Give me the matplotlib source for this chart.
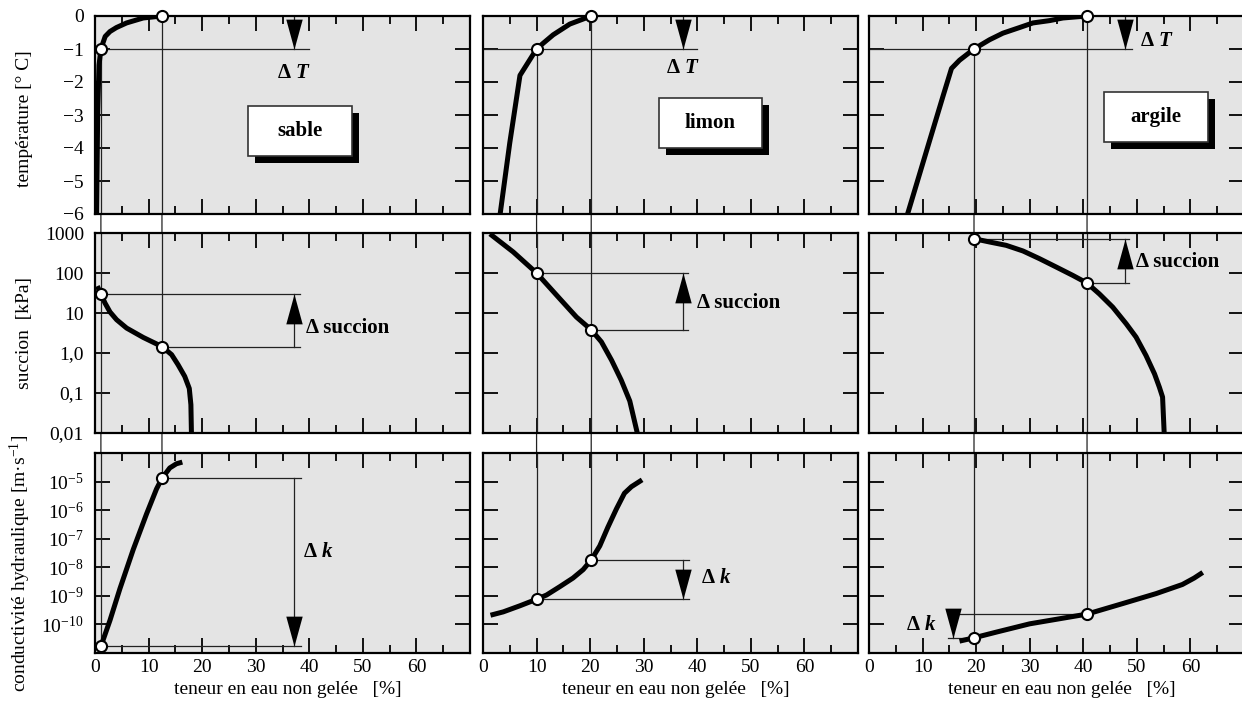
import matplotlib
matplotlib.use('Agg')
import matplotlib.pyplot as plt
from matplotlib.patches import Rectangle, ConnectionPatch
from matplotlib.ticker import NullLocator
import matplotlib.patheffects as pe

plt.rcParams['font.family'] = ['Liberation Serif', 'DejaVu Serif']
plt.rcParams['mathtext.fontset'] = 'custom'
plt.rcParams['mathtext.rm'] = 'Liberation Serif'
plt.rcParams['mathtext.it'] = 'Liberation Serif:italic:bold'
plt.rcParams['mathtext.bf'] = 'Liberation Serif:bold'

soils = ['sable', 'limon', 'argile']

# température [°C] en fonction de la teneur en eau non gelée [%]
temp_w = [[0.3, 0.5, 0.75, 1.1, 1.9, 2.8, 4.0, 5.9, 9.0, 12.5],
          [3.2, 5.0, 6.9, 8.1, 10.0, 11.2, 13.1, 16.2, 20.2],
          [7.2, 11.4, 13.85, 15.4, 16.9, 19.6, 22.5, 25.0, 28.1, 30.6, 33.7, 36.2, 40.7]]
temp_t = [[-6.0, -2.92, -1.49, -1.0, -0.62, -0.47, -0.35, -0.21, -0.06, 0.0],
          [-6.0, -3.84, -1.8, -1.49, -1.0, -0.83, -0.57, -0.245, 0.0],
          [-6.0, -3.73, -2.41, -1.59, -1.34, -1.0, -0.72, -0.52, -0.35, -0.21, -0.14, -0.06, 0.0]]

# succion [kPa]
suc_w = [[0.43, 1.1, 1.86, 2.8, 4.03, 5.9, 9.0, 12.5, 14.3, 15.5, 16.75, 17.6, 17.9, 18.0],
         [1.3, 5.65, 10.0, 14.3, 17.45, 20.2, 22.1, 24.0, 25.8, 27.4, 28.8],
         [19.6, 22.5, 25.6, 28.75, 31.8, 34.95, 38.05, 40.7, 43.0, 45.5, 48.0, 49.85,
          51.7, 53.3, 54.2, 54.8, 55.1]]
suc_s = [[47, 30, 17.8, 10.6, 6.8, 4.2, 2.45, 1.45, 0.91, 0.51, 0.26, 0.13, 0.051, 0.01],
         [950, 335, 100, 23, 7.9, 3.8, 1.9, 0.66, 0.21, 0.063, 0.01],
         [720, 596, 492, 355, 229, 141, 87, 56, 30, 14, 5.4, 2.5,
          0.87, 0.30, 0.14, 0.079, 0.01]]

# conductivité hydraulique [m/s]
k_w = [[1.1, 1.68, 2.8, 4.66, 7.14, 9.6, 11.48, 12.5, 13.96, 15.2, 16.3],
       [1.4, 3.78, 6.9, 10.0, 11.86, 14.34, 16.8, 18.7, 20.2, 21.8, 23.3, 24.9, 26.4, 27.7, 29.7],
       [16.9, 19.6, 23.8, 30.0, 40.7, 47.4, 53.6, 58.5, 60.7, 62.3]]
k_k = [[1.7e-11, 3.5e-11, 1.4e-10, 1.8e-9, 4.2e-8, 7.2e-7, 5.5e-6, 1.3e-5, 3.0e-5, 4.2e-5, 4.8e-5],
       [2.1e-10, 2.75e-10, 4.5e-10, 7.6e-10, 1.07e-9, 2.1e-9, 4.2e-9, 8.3e-9, 1.8e-8, 5.6e-8,
        2.5e-7, 1.1e-6, 3.9e-6, 6.6e-6, 1.15e-5],
       [2.6e-11, 3.4e-11, 5.4e-11, 1.05e-10, 2.3e-10, 5.4e-10, 1.2e-9, 2.5e-9, 4.2e-9, 6.6e-9]]

# points repères : -1 °C (w_lo) et 0 °C (w_hi)
w_lo = [1.1, 10.0, 19.6]
w_hi = [12.5, 20.2, 40.7]
s_lo = [30, 100, 720]
s_hi = [1.45, 3.8, 56]
k_lo = [1.7e-11, 7.6e-10, 3.4e-11]
k_hi = [1.3e-5, 1.8e-8, 2.3e-10]

W, H = 1242, 704
fig = plt.figure(figsize=(W / 100, H / 100), dpi=100)
col_x = [95, 483, 869]
row_y = [(16, 214), (233, 433), (453, 653)]
axes = [[fig.add_axes([x / W, 1 - yb / H, 375 / W, (yb - yt) / H]) for x in col_x]
        for (yt, yb) in row_y]

FS = 14
for r in range(3):
    for c in range(3):
        ax = axes[r][c]
        ax.set_facecolor('#e4e4e4')
        for s in ax.spines.values():
            s.set_linewidth(1.6)
        ax.set_xlim(0, 70)
        ax.set_xticks(range(0, 70, 10))
        ax.set_xticks(range(5, 70, 10), minor=True)
        ax.tick_params(axis='x', which='major', direction='in', top=True, bottom=True,
                       length=11, width=1.3, labelsize=FS, pad=4, labelbottom=(r == 2))
        ax.tick_params(axis='x', which='minor', direction='in', top=True, bottom=True,
                       length=6, width=1.3)
        ax.tick_params(axis='y', which='major', direction='in', left=True, right=True,
                       length=11, width=1.3, labelsize=FS, pad=8, labelleft=(c == 0))
        if r == 0:
            ax.set_ylim(-6, 0)
            ax.set_yticks(range(0, -7, -1))
            ax.set_yticklabels(['0'] + ['\u2212%d' % i for i in range(1, 7)])
        elif r == 1:
            ax.set_yscale('log')
            ax.set_ylim(0.01, 1000)
            ax.set_yticks([0.01, 0.1, 1, 10, 100, 1000])
            ax.set_yticklabels(['0,01', '0,1', '1,0', '10', '100', '1000'])
        else:
            ax.set_yscale('log')
            ax.set_ylim(1e-11, 1e-4)
            ax.set_yticks([10.0 ** -e for e in range(10, 4, -1)])
            ax.set_yticklabels([r'$\mathregular{10^{-%d}}$' % e for e in range(10, 4, -1)])
        ax.yaxis.set_minor_locator(NullLocator())
        if r == 2:
            ax.set_xlabel('teneur en eau non gelée   [%]', fontsize=FS)
            ax.xaxis.set_label_coords(0.515, -0.14)

axes[0][0].set_ylabel('température [° C]', fontsize=FS)
axes[1][0].set_ylabel('succion  [kPa]', fontsize=FS)
axes[2][0].set_ylabel(r'conductivité hydraulique [m·s$^{\mathregular{-1}}$]', fontsize=FS)
axes[0][0].yaxis.set_label_coords(-0.165, 0.48)
axes[1][0].yaxis.set_label_coords(-0.165, 0.5)
axes[2][0].yaxis.set_label_coords(-0.165, 0.45)

# triangles de flèche, pointe sur le point de données
tri_down = [(0, 0), (-0.55, 2), (0.55, 2), (0, 0)]
tri_up = [(0, 0), (-0.55, -2), (0.55, -2), (0, 0)]
LN = dict(color='#222222', lw=0.9, zorder=2)
MK = dict(marker='o', ms=8, mfc='white', mec='k', mew=1.5, ls='none', zorder=6, clip_on=False)
CURVE = dict(color='k', lw=3.6, solid_capstyle='butt', solid_joinstyle='round', zorder=4)

def arrow(ax, x, y_from, y_tip, up):
    ax.plot([x, x], [y_from, y_tip], **LN)
    ax.plot([x], [y_tip], marker=tri_up if up else tri_down, ms=43, color='k',
            mew=0, ls='none', zorder=5)

box_pos = [(28.5, -4.25, 19.4, 1.53), (32.8, -4.0, 19.3, 1.52), (43.9, -3.82, 19.4, 1.53)]
dT_arrow = [(40, 37.2, 37.2, -1.75, 'center'), (40, 37.3, 37.3, -1.6, 'center'),
            (49, 47.7, 53.8, -0.78, 'center')]
ds_arrow = [(38.3, 37.2, 39.4, 4.2), (38.2, 37.3, 40.0, 18), (48.6, 47.7, 49.9, 190)]

for c in range(3):
    at, asuc, ak = axes[0][c], axes[1][c], axes[2][c]
    at.plot(temp_w[c], temp_t[c], **CURVE)
    asuc.plot(suc_w[c], suc_s[c], **CURVE)
    ak.plot(k_w[c], k_k[c], **CURVE)

    # lignes verticales de rappel
    for w, t, k in [(w_lo[c], -1, k_lo[c]), (w_hi[c], 0, k_hi[c])]:
        at.plot([w, w], [t, -6], **LN)
        asuc.plot([w, w], [0.01, 1000], **LN)
        ak.plot([w, w], [1e-4, k], **LN)
        con = ConnectionPatch(xyA=(w, t), coordsA='data', axesA=at,
                              xyB=(w, k), coordsB='data', axesB=ak,
                              color='#222222', lw=0.9, zorder=-1)
        fig.add_artist(con)

    # ΔT
    xe, xa, xt, yt, ha = dT_arrow[c]
    at.plot([0, xe], [-1, -1], **LN)
    arrow(at, xa, 0, -1, up=False)
    at.text(xt, yt, r'$\mathbf{\Delta}\ \mathit{T}$', fontsize=15, ha=ha, va='center')

    # Δ succion
    xe, xa, xt, yt = ds_arrow[c]
    asuc.plot([w_lo[c], xe], [s_lo[c], s_lo[c]], **LN)
    asuc.plot([w_hi[c], xe], [s_hi[c], s_hi[c]], **LN)
    arrow(asuc, xa, s_hi[c], s_lo[c], up=True)
    asuc.text(xt, yt, 'Δ succion', fontsize=15, fontweight='bold', ha='left', va='center')

    # Δ k
    if c < 2:
        xe = 38.5
        ak.plot([w_hi[c], xe], [k_hi[c], k_hi[c]], **LN)
        ak.plot([w_lo[c], xe], [k_lo[c], k_lo[c]], **LN)
        xa = [37.2, 37.4][c]
        arrow(ak, xa, k_hi[c], k_lo[c], up=False)
        ak.text([38.8, 40.7][c], [3.2e-8, 4.2e-9][c], r'$\mathbf{\Delta}\ \mathit{k}$',
                fontsize=15, ha='left', va='center')
    else:
        ak.plot([16.6, w_hi[c]], [k_hi[c], k_hi[c]], **LN)
        ak.plot([14.8, w_lo[c]], [k_lo[c], k_lo[c]], **LN)
        arrow(ak, 15.6, k_hi[c], k_lo[c], up=False)
        ak.text(12.6, 9.1e-11, r'$\mathbf{\Delta}\ \mathit{k}$', fontsize=15,
                ha='right', va='center')

    # repères
    at.plot([w_lo[c], w_hi[c]], [-1, 0], **MK)
    asuc.plot([w_lo[c], w_hi[c]], [s_lo[c], s_hi[c]], **MK)
    ak.plot([w_lo[c], w_hi[c]], [k_lo[c], k_hi[c]], **MK)

    # étiquette du sol avec ombre
    bx, by, bw, bh = box_pos[c]
    rect = Rectangle((bx, by), bw, bh, fc='white', ec='#333333', lw=1.2, zorder=7,
                     path_effects=[pe.SimplePatchShadow(offset=(5, -5), shadow_rgbFace='k', alpha=1),
                                   pe.Normal()])
    at.add_patch(rect)
    at.text(bx + bw / 2, by + bh / 2, soils[c], fontsize=15, fontweight='bold',
            ha='center', va='center', zorder=8)

fig.savefig('out.png', dpi=100)
